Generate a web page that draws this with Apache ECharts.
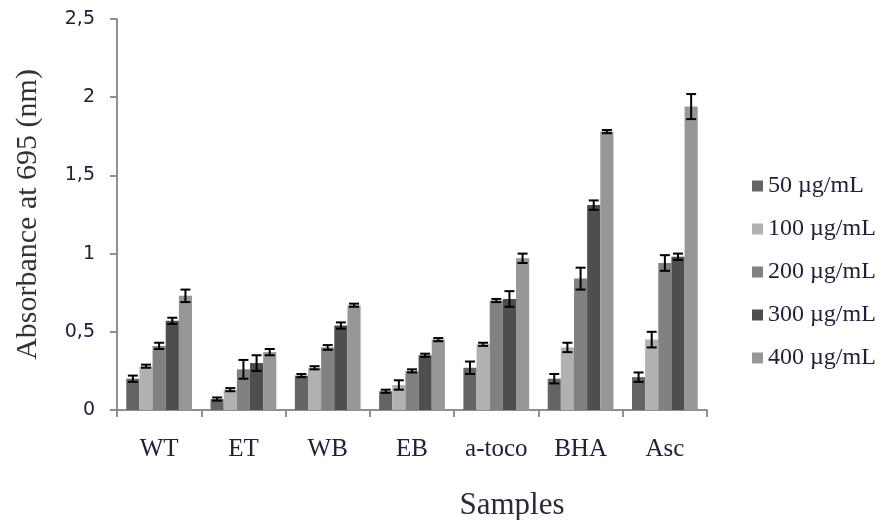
<!DOCTYPE html>
<html><head><meta charset="utf-8">
<script src="https://cdn.jsdelivr.net/npm/echarts@6/dist/echarts.min.js"></script>
<style>html,body{margin:0;padding:0;background:#fff}#c{width:883px;height:520px}</style>
</head><body><div id="c"></div>
<script>
var categories = ['WT','ET','WB','EB','a-toco','BHA','Asc'];
var seriesNames = ['50 µg/mL','100 µg/mL','200 µg/mL','300 µg/mL','400 µg/mL'];
var v50  = [0.20,0.07,0.22,0.12,0.27,0.20,0.21];
var v100 = [0.28,0.13,0.27,0.16,0.42,0.40,0.45];
var v200 = [0.41,0.26,0.40,0.25,0.70,0.84,0.94];
var v300 = [0.57,0.30,0.54,0.35,0.71,1.31,0.98];
var v400 = [0.73,0.37,0.67,0.45,0.97,1.78,1.94];
var e50  = [0.02,0.01,0.01,0.01,0.04,0.03,0.03];
var e100 = [0.01,0.01,0.01,0.03,0.01,0.03,0.05];
var e200 = [0.02,0.06,0.015,0.01,0.01,0.07,0.05];
var e300 = [0.02,0.05,0.02,0.01,0.05,0.03,0.02];
var e400 = [0.04,0.02,0.01,0.01,0.03,0.01,0.08];
var yTicks = ['0','0,5','1','1,5','2','2,5'];

var values = [v50,v100,v200,v300,v400];
var errors = [e50,e100,e200,e300,e400];
var colors = ['#646464','#b1b1b1','#818181','#4e4e4e','#979797'];
var gapRatio = 0.22;
var textColor = '#20203a';
var serif = '"Liberation Serif","Times New Roman",serif';

var series = [];
values.forEach(function(v,i){
  series.push({type:'bar', name:seriesNames[i], data:v, itemStyle:{color:colors[i]},
    barGap:'0%', barCategoryGap:(gapRatio*100)+'%'});
});
var errData = [];
values.forEach(function(v,i){
  v.forEach(function(val,j){ errData.push([j, val, errors[i][j], i]); });
});
series.push({
  type:'custom', name:'err', data:errData, z:10, silent:true,
  renderItem:function(params, api){
    var c = api.value(0), val = api.value(1), err = api.value(2), s = api.value(3);
    var band = api.size([1,0])[0];
    var bw = band*(1-gapRatio)/5;
    var center = api.coord([c, val]);
    var x = center[0] - band*(1-gapRatio)/2 + bw*(s+0.5);
    var top = api.coord([c, val+err])[1];
    var bot = api.coord([c, val-err])[1];
    var hw = bw*0.38;
    var st = {stroke:'#000', lineWidth:2};
    return {type:'group', children:[
      {type:'line', shape:{x1:x,y1:top,x2:x,y2:bot}, style:st},
      {type:'line', shape:{x1:x-hw,y1:top,x2:x+hw,y2:top}, style:st},
      {type:'line', shape:{x1:x-hw,y1:bot,x2:x+hw,y2:bot}, style:st}
    ]};
  }
});

var chart = echarts.init(document.getElementById('c'));
chart.setOption({
  animation:false,
  grid:{left:117, right:176, top:19, bottom:110, outerBoundsMode:'none', containLabel:false},
  legend:{
    data:seriesNames, orient:'vertical', left:747, top:169, itemGap:19,
    itemWidth:11, itemHeight:11, icon:'rect',
    textStyle:{fontFamily:serif, fontSize:24, color:textColor, padding:[0,0,0,0]}
  },
  xAxis:{
    type:'category', data:categories,
    name:'Samples', nameLocation:'middle', nameGap:80,
    nameTextStyle:{fontFamily:serif, fontSize:31, color:'#2a2a3a', padding:[0,0,0,200]},
    axisLine:{lineStyle:{color:'#8f8f8f', width:2}},
    axisTick:{show:true, length:7, lineStyle:{color:'#8f8f8f', width:2}},
    axisLabel:{fontFamily:serif, fontSize:25, color:textColor, margin:27}
  },
  yAxis:{
    type:'value', min:0, max:2.5, interval:0.5,
    name:'Absorbance at 695 (nm)', nameLocation:'middle', nameGap:74,
    nameTextStyle:{fontFamily:serif, fontSize:30, color:'#333'},
    axisLine:{show:true, lineStyle:{color:'#8f8f8f', width:2}},
    axisTick:{show:true, length:7, lineStyle:{color:'#8f8f8f', width:2}},
    splitLine:{show:false},
    axisLabel:{fontFamily:'"DejaVu Sans",Verdana,sans-serif', fontSize:19, color:textColor, margin:22,
      formatter:function(v){ return yTicks[Math.round(v/0.5)]; }}
  },
  series:series
});
</script></body></html>
